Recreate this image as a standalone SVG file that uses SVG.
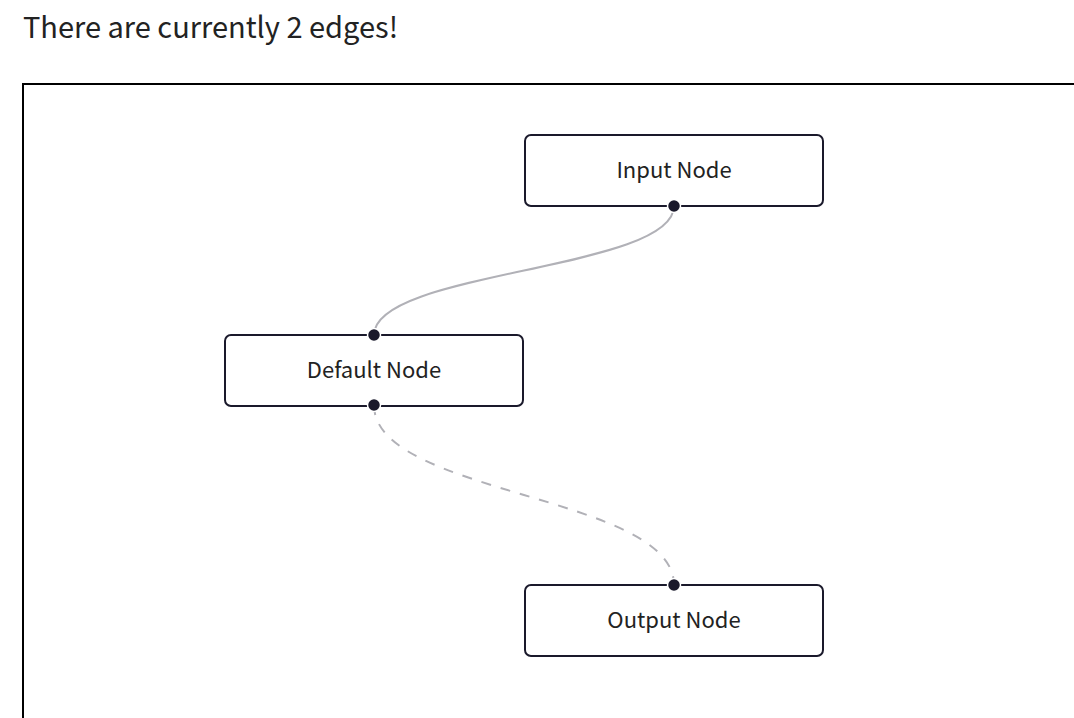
<svg xmlns="http://www.w3.org/2000/svg" width="1074" height="718" viewBox="0 0 1074 718">
<style>
.node rect{fill:#fff;stroke:#1a192b;stroke-width:2}
.node text{font-family:"Noto Sans CJK KR","Noto Sans",sans-serif;font-size:22px;fill:#222;text-anchor:middle;dominant-baseline:central}
.handle{fill:#1a192b;stroke:#fff;stroke-width:1.5}
.edge{fill:none;stroke:#b1b1b7;stroke-width:2}
.dash{stroke-dasharray:10 10}
</style>
<rect width="1074" height="718" fill="#fff"/>
<text x="23" y="38" font-family="Noto Sans CJK KR, Noto Sans, sans-serif" font-size="29" fill="#222">There are currently 2 edges!</text>
<rect x="23" y="84" width="1080" height="700" fill="none" stroke="#000" stroke-width="2"/>
<g id="connectors">
<path class="edge" d="M674,206 C674,270.5 374,270.5 374,335"/>
<path class="edge dash" d="M374,405 C374,495 674,495 674,585"/>
</g>
<g id="node-input" class="node">
<rect x="525" y="135" width="298" height="71" rx="6"/>
<text x="674" y="168">Input Node</text>
<circle class="handle" cx="674" cy="206" r="6.5"/>
</g>
<g id="node-default" class="node">
<rect x="225" y="335" width="298" height="71" rx="6"/>
<text x="374" y="368">Default Node</text>
<circle class="handle" cx="374" cy="335" r="6.5"/>
<circle class="handle" cx="374" cy="405" r="6.5"/>
</g>
<g id="node-output" class="node">
<rect x="525" y="585" width="298" height="71" rx="6"/>
<text x="674" y="618">Output Node</text>
<circle class="handle" cx="674" cy="585" r="6.5"/>
</g>
</svg>
